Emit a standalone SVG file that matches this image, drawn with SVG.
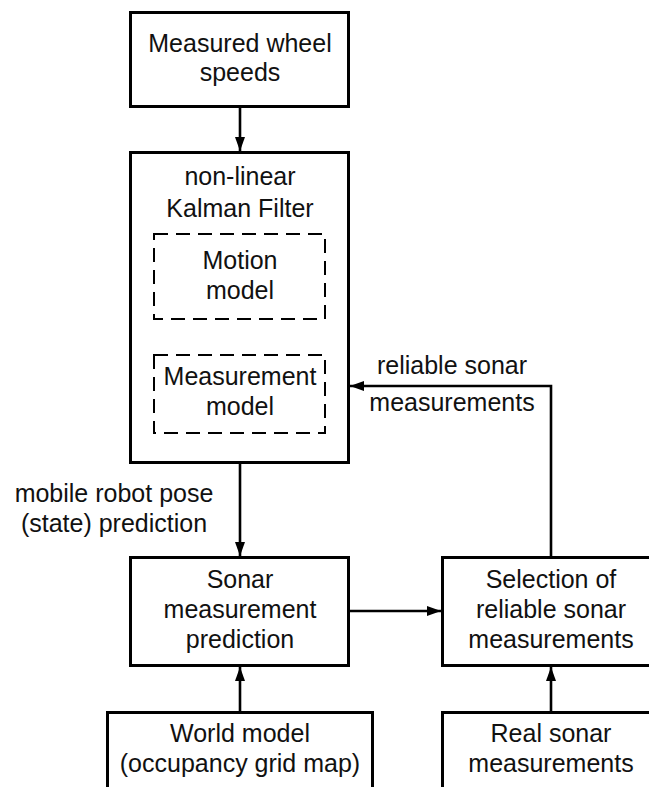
<svg xmlns="http://www.w3.org/2000/svg" width="649" height="787" viewBox="0 0 649 787">
  <style>
    .box { fill: #ffffff; stroke: #000000; stroke-width: 3; }
    .sub { fill: none; stroke: #000000; stroke-width: 2; stroke-dasharray: 14 8; }
    .wire { fill: none; stroke: #000000; stroke-width: 2.6; }
    text { font-family: "Liberation Sans", Arial, sans-serif; font-size: 25px; fill: #111111; text-anchor: middle; }
  </style>
  <defs>
    <marker id="arrow" viewBox="0 0 14 10" refX="14" refY="5" markerWidth="14" markerHeight="10" markerUnits="userSpaceOnUse" orient="auto">
      <path d="M0,0 L14,5 L0,10 Z" fill="#000000"/>
    </marker>
  </defs>

  <rect width="649" height="787" fill="#ffffff"/>

  <!-- connectors -->
  <g id="connectors">
    <line class="wire" x1="240" y1="106" x2="240" y2="151" marker-end="url(#arrow)"/>
    <line class="wire" x1="240" y1="463" x2="240" y2="556" marker-end="url(#arrow)"/>
    <line class="wire" x1="349" y1="611" x2="441" y2="611" marker-end="url(#arrow)"/>
    <line class="wire" x1="240" y1="712" x2="240" y2="667" marker-end="url(#arrow)"/>
    <line class="wire" x1="551" y1="712" x2="551" y2="667" marker-end="url(#arrow)"/>
    <polyline class="wire" points="551,557 551,386 350,386" marker-end="url(#arrow)"/>
    <text x="114" y="502">mobile robot pose</text>
    <text x="114" y="532">(state) prediction</text>
    <text x="452" y="374">reliable sonar</text>
    <text x="452" y="411">measurements</text>
  </g>

  <!-- wheel speeds input -->
  <g id="wheel-speeds">
    <rect class="box" x="130.5" y="12.5" width="218" height="94"/>
    <text x="240" y="52">Measured wheel</text>
    <text x="240" y="81">speeds</text>
  </g>

  <!-- filter block with its two inner models -->
  <g id="kalman-filter">
    <rect class="box" x="130.5" y="152.5" width="218" height="310"/>
    <text x="240" y="185">non-linear</text>
    <text x="240" y="217">Kalman Filter</text>
  </g>
  <g id="motion-model">
    <rect class="sub" x="154" y="234" width="171" height="85"/>
    <text x="240" y="269">Motion</text>
    <text x="240" y="299">model</text>
  </g>
  <g id="measurement-model">
    <rect class="sub" x="154" y="355" width="171" height="78"/>
    <text x="240" y="385">Measurement</text>
    <text x="240" y="415">model</text>
  </g>

  <g id="sonar-prediction">
    <rect class="box" x="130.5" y="557.5" width="218" height="108"/>
    <text x="240" y="588">Sonar</text>
    <text x="240" y="618">measurement</text>
    <text x="240" y="648">prediction</text>
  </g>

  <g id="selection">
    <rect class="box" x="442.5" y="557.5" width="218" height="108"/>
    <text x="551" y="588">Selection of</text>
    <text x="551" y="618">reliable sonar</text>
    <text x="551" y="648">measurements</text>
  </g>

  <g id="world-model">
    <rect class="box" x="107.5" y="712.5" width="265" height="90"/>
    <text x="240" y="742">World model</text>
    <text x="240" y="772">(occupancy grid map)</text>
  </g>

  <g id="real-sonar">
    <rect class="box" x="442.5" y="712.5" width="218" height="90"/>
    <text x="551" y="742">Real sonar</text>
    <text x="551" y="772">measurements</text>
  </g>
</svg>
